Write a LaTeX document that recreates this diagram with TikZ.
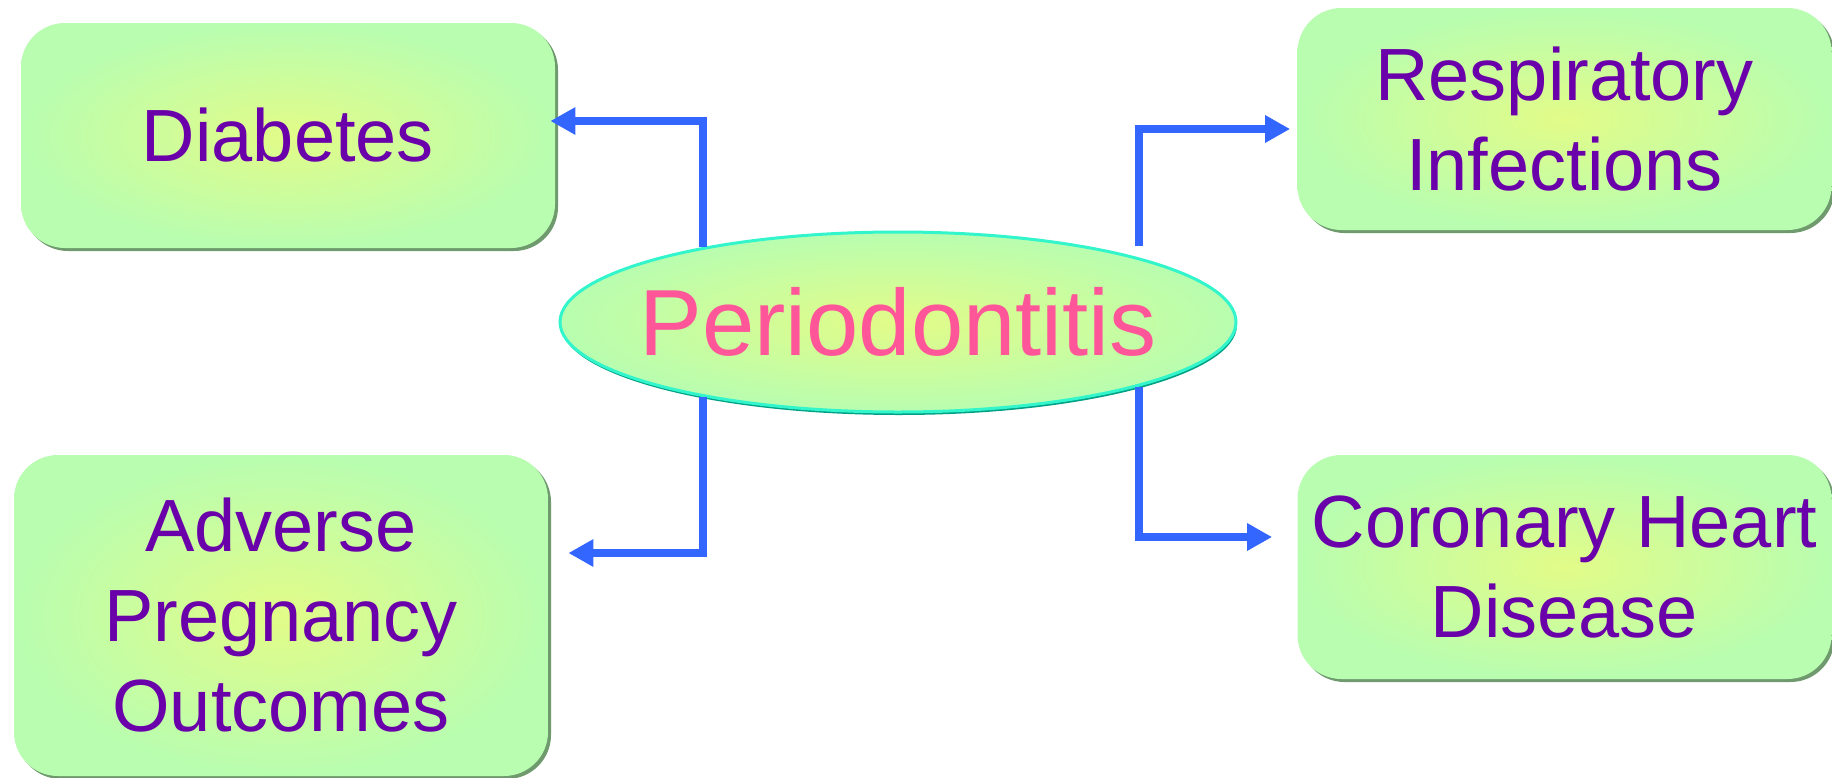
\documentclass[tikz,border=0pt]{standalone}
\usepackage{fontspec}
\setmainfont{Liberation Sans}
\usetikzlibrary{positioning,arrows.meta,shapes.geometric,shadows}
\definecolor{boxgreen}{HTML}{B8FDB0}
\definecolor{boxcore}{HTML}{E2FC88}
\definecolor{boxshade}{HTML}{6E9A6E}
\definecolor{labelpurple}{HTML}{6A00AA}
\definecolor{hubpink}{HTML}{FF5599}
\definecolor{rimcyan}{HTML}{33F5CC}
\definecolor{rimteal}{HTML}{00A084}
\definecolor{linkblue}{HTML}{3366FF}

\begin{document}
\begin{tikzpicture}[
    x=0.5pt, y=-0.5pt,
    box/.style={rounded corners=22pt, minimum width=267pt, inner sep=0pt, align=center,
      shading=radial, inner color=boxcore, outer color=boxgreen,
      drop shadow={shadow xshift=1.5pt, shadow yshift=-1.5pt, fill=boxshade, opacity=1},
      text=labelpurple, font=\fontsize{37}{45}\selectfont},
    hub/.style={ellipse, minimum width=338pt, minimum height=90pt, inner sep=0pt,
      shading=radial, inner color=boxcore, outer color=boxgreen,
      draw=rimcyan, line width=1.5pt,
      drop shadow={shadow xshift=0.5pt, shadow yshift=-1.5pt, fill=rimteal, opacity=1},
      text=hubpink, font=\fontsize{47}{56}\selectfont},
    arr/.style={-{Triangle[length=12.5pt,width=13pt]}, line width=4pt, linkblue}
]
  \useasboundingbox (0,0) rectangle (1832,777);

  \node[box, minimum height=112.5pt] (Dia) at (288,135.5) {Diabetes};
  \node[box, minimum height=111pt] (Resp) at (1564.5,119) {Respiratory\\Infections};
  \node[box, minimum height=160.5pt] (Adv) at (281,615.5) {Adverse\\Pregnancy\\Outcomes};
  \node[box, minimum height=112pt] (Cor) at (1564.5,567) {Coronary Heart\\Disease};

  \node[hub] (Per) at (898,322) {\makebox[0pt]{Periodontitis}};

  \draw[arr] (Per.159) |- ([xshift=-2.5pt, yshift=7.25pt]Dia.east);
  \draw[arr] ([yshift=5.5pt]Per.15) |- ([xshift=-3.5pt, yshift=-5pt]Resp.west);
  \draw[arr] (Per.201) |- ([xshift=10pt, yshift=31.25pt]Adv.east);
  \draw[arr] (Per.345) |- ([xshift=-12.5pt, yshift=15pt]Cor.west);
\end{tikzpicture}
\end{document}
